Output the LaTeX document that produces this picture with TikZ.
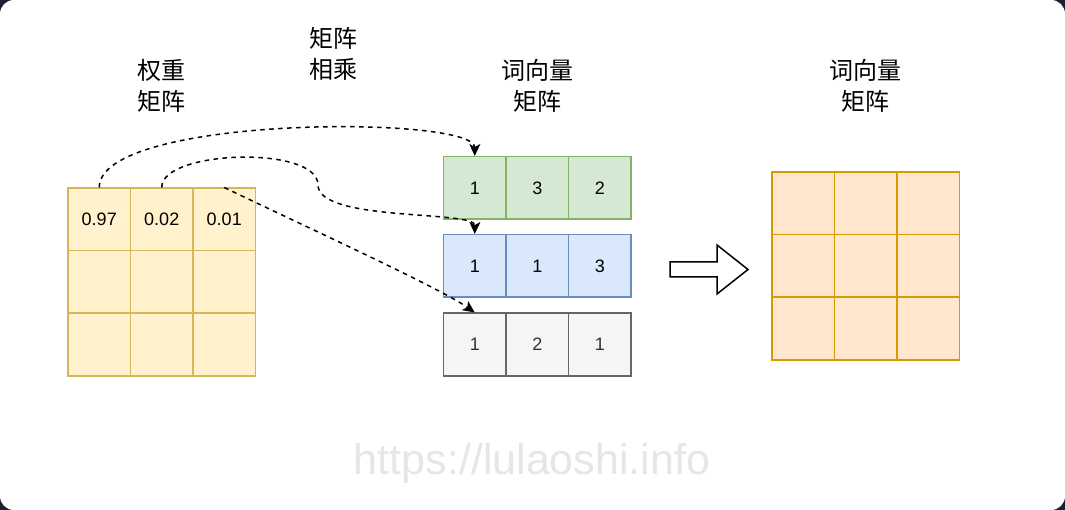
\documentclass[tikz,border=0pt]{standalone}
\usepackage{fontspec}
\setmainfont{Liberation Sans}
\newfontfamily\cjk{Noto Sans CJK SC}
\usepackage{tikz}
\usetikzlibrary{positioning}
\usetikzlibrary{arrows.meta}

\definecolor{fondo}{HTML}{1C2030}
\definecolor{amarilloF}{HTML}{FFF2CC}
\definecolor{amarilloL}{HTML}{D6B656}
\definecolor{verdeF}{HTML}{D5E8D4}
\definecolor{verdeL}{HTML}{82B366}
\definecolor{azulF}{HTML}{DAE8FC}
\definecolor{azulL}{HTML}{6C8EBF}
\definecolor{grisF}{HTML}{F5F5F5}
\definecolor{grisL}{HTML}{666666}
\definecolor{naranjaF}{HTML}{FFE6CC}
\definecolor{naranjaL}{HTML}{D79B00}
\definecolor{marca}{HTML}{E6E6E6}

\begin{document}
\begin{tikzpicture}[x=1pt, y=-1pt,
    celda/.style={draw, rectangle, line width=1.5pt, minimum width=62.5pt, minimum height=62.5pt, inner sep=0pt, font=\fontsize{18}{18}\selectfont},
    peso/.style={celda, fill=amarilloF, draw=amarilloL},
    verde/.style={celda, fill=verdeF, draw=verdeL},
    azul/.style={celda, fill=azulF, draw=azulL},
    gris/.style={celda, fill=grisF, draw=grisL, text=black!80},
    salida/.style={celda, fill=naranjaF, draw=naranjaL},
    titulo/.style={align=center, font=\cjk\fontsize{24}{31}\selectfont},
    flecha/.style={-{Stealth[length=12pt, width=11pt, inset=3pt]}, line width=1.5pt, dash pattern=on 4.5pt off 4.5pt}]
          \useasboundingbox (0,0) rectangle (1065,510);
          \fill[fondo] (0,0) rectangle (1065,510);
          \fill[white, rounded corners=14pt] (0,0) rectangle (1065,510);

          % Matriz de pesos
          \node[peso](w1) at (99.25,219.5) {0.97};
          \node[peso](w2) at (161.75,219.5) {0.02};
          \node[peso](w3) at (224.25,219.5) {0.01};
          \node[peso](w4) at (99.25,282) {};
          \node[peso](w5) at (161.75,282) {};
          \node[peso](w6) at (224.25,282) {};
          \node[peso](w7) at (99.25,344.5) {};
          \node[peso](w8) at (161.75,344.5) {};
          \node[peso](w9) at (224.25,344.5) {};

          % Vectores de palabras
          \node[verde](g1) at (474.75,188) {1};
          \node[verde](g2) at (537.25,188) {3};
          \node[verde](g3) at (599.75,188) {2};
          \node[azul](b1) at (474.75,266) {1};
          \node[azul](b2) at (537.25,266) {1};
          \node[azul](b3) at (599.75,266) {3};
          \node[gris](k1) at (474.75,344.5) {1};
          \node[gris](k2) at (537.25,344.5) {2};
          \node[gris](k3) at (599.75,344.5) {1};

          % Resultado
          \node[salida](r1) at (803.25,203.5) {};
          \node[salida](r2) at (865.75,203.5) {};
          \node[salida](r3) at (928.25,203.5) {};
          \node[salida](r4) at (803.25,266) {};
          \node[salida](r5) at (865.75,266) {};
          \node[salida](r6) at (928.25,266) {};
          \node[salida](r7) at (803.25,328.5) {};
          \node[salida](r8) at (865.75,328.5) {};
          \node[salida](r9) at (928.25,328.5) {};

          % Titulos
          \node[titulo](tpeso) at (161,86) {权重\\矩阵};
          \node[titulo](tmult) at (333,54) {矩阵\\相乘};
          \node[titulo](tvec) at (537,86) {词向量\\矩阵};
          \node[titulo](tres) at (865,86) {词向量\\矩阵};
          \node[text=marca, font=\fontsize{43}{43}\selectfont](marca) at (532,463) {https://lulaoshi.info};

          % Flecha grande
          \draw[line width=1.5pt, fill=white, line join=miter] (670,262) -- (717,262) -- (717,245) -- (748,269.5) -- (717,294) -- (717,277) -- (670,277) -- cycle;

          % Aristas
          \draw[flecha] (w1.north) .. controls (99,115) and (475,115) .. (g1.north);
          \draw[flecha] (w2.north) .. controls (161,150) and (318,145) .. (318,185)
                        .. controls (318,222) and (475,210) .. (b1.north);
          \draw[flecha] (w3.north) .. controls (300,224) and (440,288) .. (k1.north);
        \end{tikzpicture}
\end{document}
